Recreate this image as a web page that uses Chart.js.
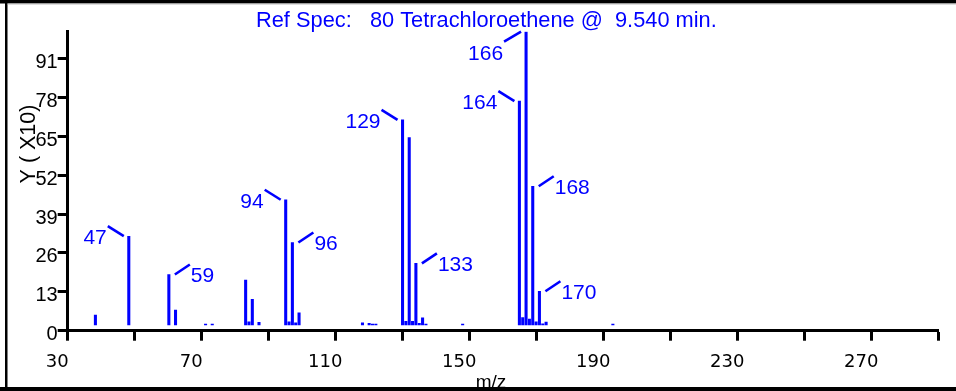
<!DOCTYPE html>
<html><head><meta charset="utf-8">
<script src="https://cdn.jsdelivr.net/npm/chart.js@4/dist/chart.umd.min.js"></script>
<style>html,body{margin:0;padding:0;background:#fff;overflow:hidden}canvas{display:block}</style>
</head><body>
<canvas id="c" width="956" height="391"></canvas>
<script>
const titleText = 'Ref Spec:   80 Tetrachloroethene @  9.540 min.';
const xAxisTitle = 'm/z';
const yAxisTitle = 'Y ( X10)';
const mzValues    = [37, 47, 59, 61, 70, 72, 82, 83, 84, 86, 94, 95, 96, 97, 98, 117, 119, 120, 121, 129, 130, 131, 132, 133, 134, 135, 136, 147, 164, 165, 166, 167, 168, 169, 170, 171, 172, 192];
const intensities = [5.2, 31.6, 18.8, 6.9, 2.2, 2.2, 16.9, 3.0, 10.5, 2.8, 43.8, 3.0, 29.5, 2.6, 6.0, 2.6, 2.5, 2.2, 2.2, 70.5, 3.1, 64.6, 3.1, 22.5, 2.5, 4.3, 2.2, 2.2, 76.8, 4.4, 100, 3.9, 48.3, 3.0, 13.2, 2.3, 2.9, 2.2];
const labeledPeaks = [47, 59, 94, 96, 129, 133, 164, 166, 168, 170];
const labelSides   = ['left', 'right', 'left', 'right', 'left', 'right', 'left', 'below', 'right', 'right'];
const xTickLabels = ['30', '', '70', '', '110', '', '150', '', '190', '', '230', '', '270', ''];
const yTickValues = [0, 13, 26, 39, 52, 65, 78, 91];

const BLUE = '#0000ff';
const X_MIN = 28.7, X_MAX = 289.6;

const peakLabels = {
  id: 'peakLabels',
  afterDatasetsDraw(chart) {
    const ctx = chart.ctx;
    const meta = chart.getDatasetMeta(0);
    ctx.save();
    ctx.strokeStyle = BLUE;
    ctx.fillStyle = BLUE;
    ctx.lineWidth = 2.6;
    ctx.font = '21px "Liberation Sans", Arial, sans-serif';
    ctx.textBaseline = 'middle';
    labeledPeaks.forEach((mz, i) => {
      const idx = mzValues.indexOf(mz);
      const el = meta.data[idx];
      const x = el.x, y = el.y;
      const side = labelSides[i];
      ctx.beginPath();
      if (side === 'left') {
        ctx.moveTo(x - 5, y); ctx.lineTo(x - 21, y - 10);
        ctx.stroke();
        ctx.textAlign = 'right';
        ctx.fillText(String(mz), x - 22, y + 2);
      } else if (side === 'right') {
        ctx.moveTo(x + 6, y); ctx.lineTo(x + 21, y - 10);
        ctx.stroke();
        ctx.textAlign = 'left';
        ctx.fillText(String(mz), x + 22, y + 2);
      } else {
        ctx.moveTo(x - 5, y); ctx.lineTo(x - 22, y + 10);
        ctx.stroke();
        ctx.textAlign = 'right';
        ctx.fillText(String(mz), x - 23, y + 23);
      }
    });
    ctx.restore();
  }
};

const decorations = {
  id: 'decorations',
  afterDraw(chart) {
    const ctx = chart.ctx;
    ctx.save();
    // title
    ctx.fillStyle = BLUE;
    ctx.font = '21.8px "Liberation Sans", Arial, sans-serif';
    ctx.textAlign = 'left';
    ctx.textBaseline = 'alphabetic';
    ctx.fillText(titleText, 256, 26.5);
    // axis titles
    ctx.fillStyle = '#000';
    ctx.font = '19px "Liberation Sans", Arial, sans-serif';
    ctx.textAlign = 'center';
    ctx.fillText(xAxisTitle, 491, 388);
    ctx.save();
    ctx.translate(35, 144);
    ctx.rotate(-Math.PI / 2);
    ctx.font = '21.5px "Liberation Sans", Arial, sans-serif';
    ctx.textAlign = 'center';
    ctx.fillText(yAxisTitle, 0, 0);
    ctx.restore();
    // frame
    ctx.fillStyle = '#000';
    ctx.fillRect(0, 0, 956, 3.5);
    ctx.fillRect(5, 0, 2.5, 391);
    ctx.fillRect(0, 387, 956, 4);
    ctx.fillStyle = '#bbb';
    ctx.fillRect(7.5, 3.5, 948.5, 1);
    ctx.restore();
  }
};

new Chart(document.getElementById('c'), {
  type: 'bar',
  data: {
    datasets: [{
      data: mzValues.map((m, i) => ({ x: m, y: intensities[i] })),
      backgroundColor: BLUE,
      borderWidth: 0,
      barThickness: 2.4,
      base: 1.9
    }]
  },
  options: {
    responsive: false,
    animation: false,
    events: [],
    layout: { padding: { left: 0, top: 31.7, right: 17.3, bottom: 0 } },
    plugins: { legend: { display: false }, tooltip: { enabled: false }, title: { display: false } },
    scales: {
      x: {
        type: 'linear',
        min: X_MIN, max: X_MAX,
        offset: false,
        grid: { display: true, drawOnChartArea: false, drawTicks: true, tickLength: 10, tickWidth: 3, tickColor: '#000', offset: false },
        border: { display: true, color: '#000', width: 3 },
        afterBuildTicks(scale) {
          const step = (X_MAX - X_MIN) / 13;
          scale.ticks = xTickLabels.map((l, i) => ({ value: X_MIN + i * step }));
        },
        afterFit(scale) { scale.height = 391 - 330.7; },
        ticks: {
          autoSkip: false, maxRotation: 0, minRotation: 0,
          padding: 11, labelOffset: -10.5,
          color: '#000',
          font: { family: '"DejaVu Sans", Verdana, sans-serif', size: 18 },
          callback: (v, i) => xTickLabels[i]
        }
      },
      y: {
        type: 'linear',
        min: 0, max: 100,
        grid: { display: true, drawOnChartArea: false, drawTicks: true, tickLength: 10, tickWidth: 3, tickColor: '#000' },
        border: { display: true, color: '#000', width: 3 },
        afterBuildTicks(scale) {
          scale.ticks = yTickValues.map(v => ({ value: v }));
        },
        afterFit(scale) { scale.width = 67.7; },
        ticks: {
          autoSkip: false, padding: 0, labelOffset: 4,
          color: '#000',
          font: { family: '"Liberation Sans", Arial, sans-serif', size: 20 },
          callback: (v) => String(v)
        }
      }
    }
  },
  plugins: [peakLabels, decorations]
});
</script>
</body></html>
